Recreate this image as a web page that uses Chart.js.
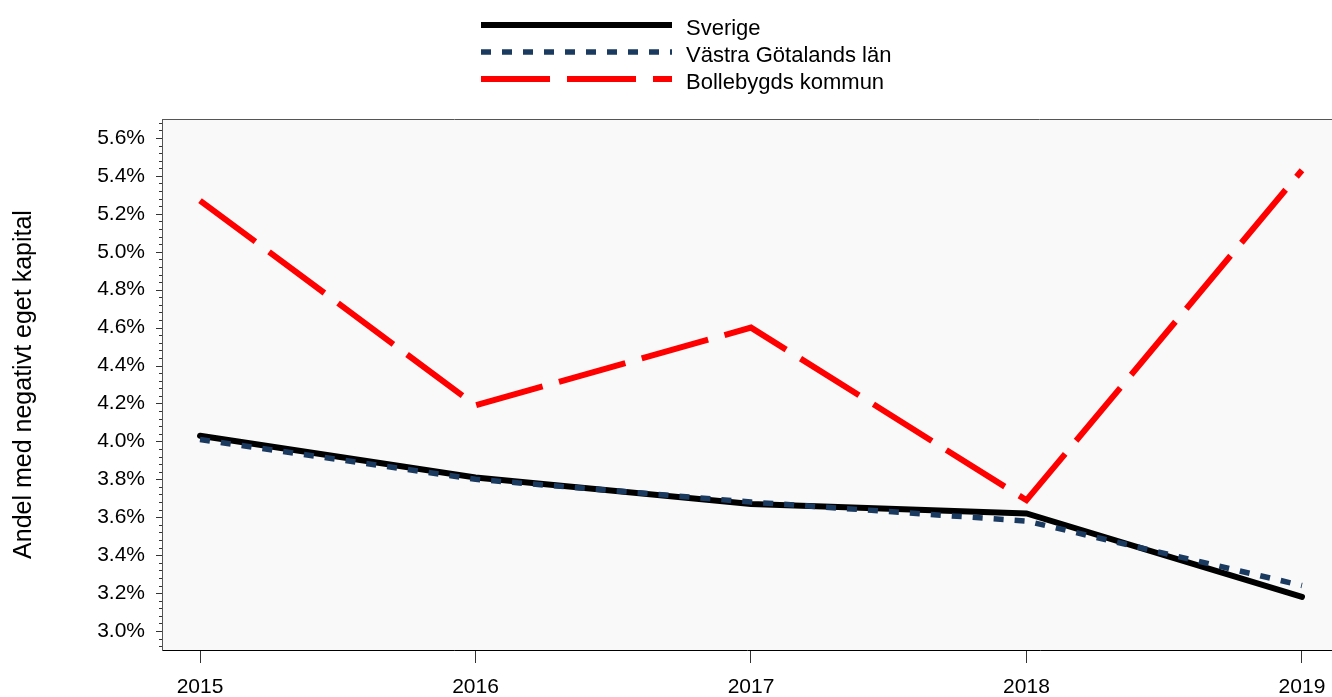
<!DOCTYPE html>
<html lang="sv">
<head>
    <meta charset="UTF-8">
    <title>Andel med negativt eget kapital</title>
    <script src="https://cdn.jsdelivr.net/npm/chart.js"></script>
    <style>
        body { margin: 0; background: #fff; font-family: "Liberation Sans", Arial, sans-serif; }
        #wrap { position: relative; width: 1332px; height: 697px; }
        #legend { position: absolute; left: 0; top: 0; width: 1332px; height: 100px; }
        .lg-text { position: absolute; left: 686px; font-size: 22px; line-height: 27px; color: #000; white-space: nowrap; }
        #chart-box { position: absolute; left: 0; top: 0; width: 1332px; height: 697px; }
    </style>
</head>
<body>
<div id="wrap">
    <div id="chart-box"><canvas id="kapitalChart"></canvas></div>
    <div id="legend"></div>
</div>
<script>
    // data (percent)
    const years = [2015, 2016, 2017, 2018, 2019];
    const sverige = [4.03, 3.81, 3.67, 3.62, 3.18];
    const vastraGotaland = [4.01, 3.80, 3.68, 3.58, 3.24];
    const bollebygd = [5.27, 4.19, 4.60, 3.69, 5.43];

    const seriesNames = ["Sverige", "Västra Götalands län", "Bollebygds kommun"];
    const yMajorTicks = [3.0, 3.2, 3.4, 3.6, 3.8, 4.0, 4.2, 4.4, 4.6, 4.8, 5.0, 5.2, 5.4, 5.6];
    const yTitle = "Andel med negativt eget kapital";

    const FONT = '"Liberation Sans", Arial, sans-serif';
    const styles = [
        { color: "#000000", width: 6, dash: [], cap: "round" },
        { color: "#1b3a60", width: 5.5, dash: [10, 11], cap: "butt" },
        { color: "#ff0000", width: 6, dash: [69, 17], cap: "butt" }
    ];

    // minor ticks every 0.04 between (and just outside) the labelled ones
    const yAllTicks = [];
    yMajorTicks.forEach((v, i) => {
        if (i === 0) { yAllTicks.push(+(v - 0.08).toFixed(2), +(v - 0.04).toFixed(2)); }
        yAllTicks.push(v);
        for (let k = 1; k <= 4; k++) {
            if (i < yMajorTicks.length - 1 || k <= 2) yAllTicks.push(+(v + k * 0.04).toFixed(2));
        }
    });
    const isMajor = v => Math.round(v * 100) % 20 === 0;

    // legend as html
    const legend = document.getElementById("legend");
    let svg = '<svg width="1332" height="100" style="position:absolute;left:0;top:0">';
    seriesNames.forEach((name, i) => {
        const s = styles[i];
        const y = 25 + i * 27;
        svg += '<line x1="481" x2="672" y1="' + y + '" y2="' + y + '" stroke="' + s.color +
            '" stroke-width="' + s.width + '" stroke-dasharray="' + (s.dash.join(" ") || "none") + '"/>';
    });
    svg += '</svg>';
    legend.innerHTML = svg;
    seriesNames.forEach((name, i) => {
        const d = document.createElement("div");
        d.className = "lg-text";
        d.style.top = (14 + i * 27) + "px";
        d.textContent = name;
        legend.appendChild(d);
    });

    const axisExtras = {
        id: "axisExtras",
        beforeDraw(chart) {
            const { ctx, chartArea: a } = chart;
            ctx.save();
            ctx.fillStyle = "#f9f9f9";
            ctx.fillRect(a.left, a.top, a.right - a.left, a.bottom - a.top);
            ctx.restore();
        },
        afterDraw(chart) {
            const { ctx, chartArea: a } = chart;
            const yScale = chart.scales.y;
            ctx.save();
            ctx.lineWidth = 1;
            ctx.strokeStyle = "#555";
            ctx.beginPath();
            ctx.moveTo(a.left, a.top + 0.5);
            ctx.lineTo(a.right, a.top + 0.5);
            ctx.stroke();
            ctx.strokeStyle = "#333";
            yScale.ticks.forEach(t => {
                const py = Math.round(yScale.getPixelForValue(t.value)) + 0.5;
                const len = isMajor(t.value) ? 6 : 3;
                ctx.beginPath();
                ctx.moveTo(a.left - len, py);
                ctx.lineTo(a.left, py);
                ctx.stroke();
            });
            ctx.restore();
        }
    };

    const seriesData = [sverige, vastraGotaland, bollebygd];
    const datasets = seriesNames.map((name, i) => ({
        label: name,
        data: years.map((yr, j) => ({ x: yr, y: seriesData[i][j] })),
        borderColor: styles[i].color,
        backgroundColor: styles[i].color,
        borderWidth: styles[i].width,
        borderDash: styles[i].dash,
        borderCapStyle: styles[i].cap,
        borderJoinStyle: "miter",
        pointRadius: 0,
        tension: 0,
        order: 2 - i
    }));

    new Chart(document.getElementById("kapitalChart"), {
        type: "line",
        data: { datasets },
        plugins: [axisExtras],
        options: {
            responsive: true,
            maintainAspectRatio: false,
            animation: false,
            layout: { padding: { top: 119, left: 9, right: 0, bottom: 0 } },
            plugins: { legend: { display: false }, tooltip: { enabled: false } },
            scales: {
                x: {
                    type: "linear",
                    min: 2014.862,
                    max: 2019.109,
                    afterBuildTicks: scale => { scale.ticks = years.map(v => ({ value: v })); },
                    afterFit: scale => {
                        scale.height = 47;
                        scale.paddingLeft = 0;
                        scale.paddingRight = 0;
                    },
                    grid: { display: true, drawOnChartArea: false, drawTicks: true, tickLength: 13, tickColor: "#333" },
                    border: { display: true, color: "#000", width: 1 },
                    ticks: {
                        autoSkip: false,
                        maxRotation: 0,
                        padding: 12,
                        color: "#000",
                        font: { family: FONT, size: 21 },
                        callback: v => String(v)
                    }
                },
                y: {
                    type: "linear",
                    min: 2.9,
                    max: 5.7,
                    afterBuildTicks: scale => { scale.ticks = yAllTicks.map(v => ({ value: v })); },
                    afterFit: scale => { scale.width = 153; },
                    grid: { display: true, drawOnChartArea: false, drawTicks: false },
                    border: { display: true, color: "#555", width: 1 },
                    ticks: {
                        autoSkip: false,
                        padding: 17,
                        color: "#000",
                        font: { family: FONT, size: 21 },
                        callback: v => isMajor(v) ? v.toFixed(1) + "%" : ""
                    },
                    title: {
                        display: true,
                        text: yTitle,
                        color: "#000",
                        padding: 0,
                        font: { family: FONT, size: 25 }
                    }
                }
            }
        }
    });
</script>
</body>
</html>
